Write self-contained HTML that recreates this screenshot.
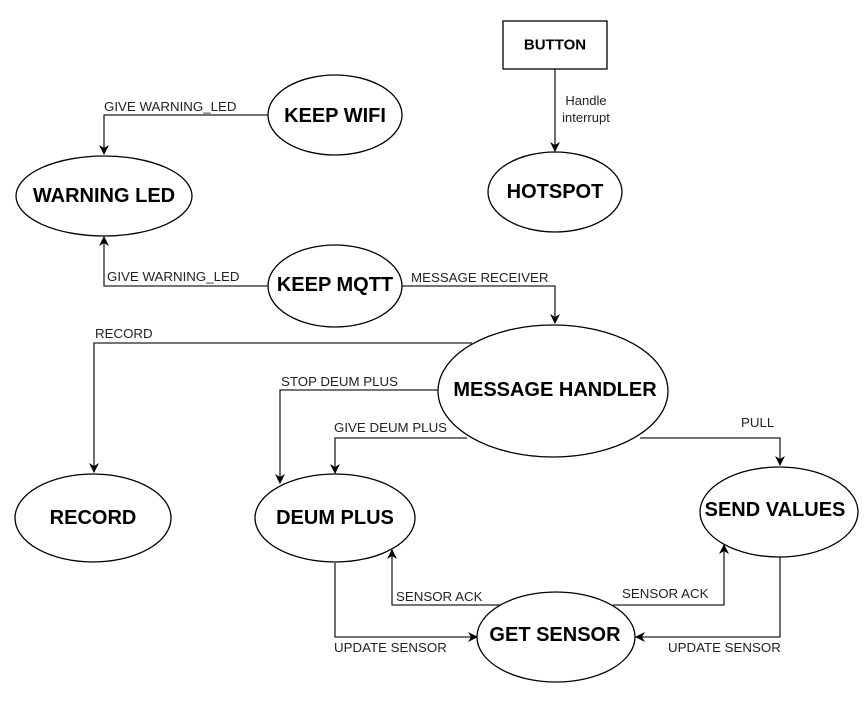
<!DOCTYPE html>
<html><head><meta charset="utf-8"><style>
html,body{margin:0;padding:0;background:#fff;}
svg{display:block;}
.n{font-family:"Liberation Sans",Arial,sans-serif;font-weight:bold;font-size:20px;text-anchor:middle;dominant-baseline:central;fill:#000;}
.l{font-family:"Liberation Sans",Arial,sans-serif;font-size:13.3px;fill:#222;}
ellipse,rect{fill:#fff;stroke:#000;stroke-width:1.3;}
path{fill:none;stroke:#222;stroke-width:1.3;}
</style></head><body>
<svg width="868" height="726" viewBox="0 0 868 726" xmlns="http://www.w3.org/2000/svg">
<defs><marker id="a" markerWidth="10" markerHeight="10" refX="9" refY="5" orient="auto" markerUnits="userSpaceOnUse"><path d="M0,0 L10,5 L0,10 L3,5 Z" style="fill:#000;stroke:none"/></marker></defs>
<path d="M268,115 H104 V154" marker-end="url(#a)"/>
<path d="M555,69 V151" marker-end="url(#a)"/>
<path d="M268,286 H104 V237" marker-end="url(#a)"/>
<path d="M402,286 H555 V323" marker-end="url(#a)"/>
<path d="M472,343 H94 V472" marker-end="url(#a)"/>
<path d="M438,390 H280 V483" marker-end="url(#a)"/>
<path d="M467,438 H335 V473" marker-end="url(#a)"/>
<path d="M640,438 H780 V465" marker-end="url(#a)"/>
<path d="M500,605 H392 V550" marker-end="url(#a)"/>
<path d="M613,605 H724 V545" marker-end="url(#a)"/>
<path d="M335,563 V637 H477" marker-end="url(#a)"/>
<path d="M780,557 V637 H636" marker-end="url(#a)"/>
<rect x="503" y="21" width="104" height="48"/>
<text class="n" x="555" y="45" style="font-size:15px">BUTTON</text>
<ellipse cx="335" cy="115" rx="67" ry="40"/>
<text class="n" x="335" y="116">KEEP WIFI</text>
<ellipse cx="104" cy="196" rx="88" ry="40"/>
<text class="n" x="104" y="196">WARNING LED</text>
<ellipse cx="555" cy="192" rx="67" ry="40"/>
<text class="n" x="555" y="192">HOTSPOT</text>
<ellipse cx="335" cy="286" rx="67" ry="41"/>
<text class="n" x="335" y="285">KEEP MQTT</text>
<ellipse cx="553" cy="391" rx="115" ry="66"/>
<text class="n" x="555" y="390">MESSAGE HANDLER</text>
<ellipse cx="93" cy="518" rx="78" ry="44"/>
<text class="n" x="93" y="518">RECORD</text>
<ellipse cx="335" cy="518" rx="80" ry="44"/>
<text class="n" x="335" y="518">DEUM PLUS</text>
<ellipse cx="779" cy="512" rx="79" ry="45"/>
<text class="n" x="775" y="510">SEND VALUES</text>
<ellipse cx="556" cy="637" rx="79" ry="45"/>
<text class="n" x="555" y="635">GET SENSOR</text>
<text class="l" x="104" y="111">GIVE WARNING_LED</text>
<rect x="560" y="92" width="52" height="32" style="stroke:none"/>
<text class="l" x="586" y="105" text-anchor="middle" style="font-size:13px">Handle</text>
<text class="l" x="586" y="122" text-anchor="middle" style="font-size:13px">interrupt</text>
<text class="l" x="107" y="281">GIVE WARNING_LED</text>
<text class="l" x="411" y="282">MESSAGE RECEIVER</text>
<text class="l" x="95" y="338">RECORD</text>
<text class="l" x="281" y="386">STOP DEUM PLUS</text>
<text class="l" x="334" y="432">GIVE DEUM PLUS</text>
<text class="l" x="741" y="427">PULL</text>
<text class="l" x="396" y="601">SENSOR ACK</text>
<text class="l" x="622" y="598">SENSOR ACK</text>
<text class="l" x="334" y="652">UPDATE SENSOR</text>
<text class="l" x="668" y="652">UPDATE SENSOR</text>
</svg>
</body></html>
